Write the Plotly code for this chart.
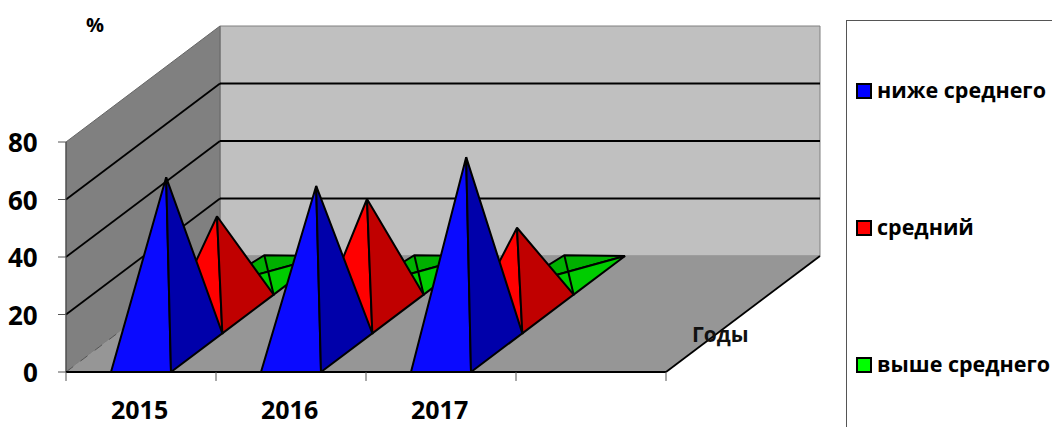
import plotly.graph_objects as go

years = ["2015", "2016", "2017"]
below_avg = [61, 58, 68]
average = [34, 40, 30]
above_avg = [7, 7, 7]
series_names = ["ниже среднего", "средний", "выше среднего"]
y_ticks = [0, 20, 40, 60, 80]

FONT = "Open Sans"
X0, Y0, CAT_W, PX_PER_UNIT, DX, DY = 66, 372, 150, 2.875, 154, 116
N_CATS = 4


def project(u, d, v=0):
    return X0 + u * CAT_W + d * DX, Y0 - v * PX_PER_UNIT - d * DY


fig = go.Figure()


def poly(points, fill, line="black", width=2):
    xs = [p[0] for p in points] + [points[0][0]]
    ys = [p[1] for p in points] + [points[0][1]]
    fig.add_trace(go.Scatter(x=xs, y=ys, mode="lines", fill="toself", fillcolor=fill,
                             line=dict(color=line, width=width), hoverinfo="skip", showlegend=False))


def seg(a, b, color="black", width=2, dash="solid"):
    fig.add_trace(go.Scatter(x=[a[0], b[0]], y=[a[1], b[1]], mode="lines",
                             line=dict(color=color, width=width, dash=dash),
                             hoverinfo="skip", showlegend=False))


# Walls and floor
poly([project(0, 1, 0), project(N_CATS, 1, 0), project(N_CATS, 1, 80), project(0, 1, 80)], "#c0c0c0", "#808080", 1)
poly([project(0, 0, 0), project(0, 1, 0), project(0, 1, 80), project(0, 0, 80)], "#808080", "#666666", 1)
poly([project(0, 0, 0), project(N_CATS, 0, 0), project(N_CATS, 1, 0), project(0, 1, 0)], "#969696", "#969696", 0.5)

# Gridlines
for t in y_ticks[1:-1]:
    seg(project(0, 0, t), project(0, 1, t), width=1.8)
    seg(project(0, 1, t), project(N_CATS, 1, t), width=1.8)
seg(project(0, 0, 0), project(0, 1, 0), "#555555", 1, "dash")
seg(project(N_CATS, 0, 0), project(N_CATS, 1, 0), "black", 1.8)

# Axis lines and ticks
seg(project(0, 0, 0), project(0, 0, 80), "#444444", 1)
seg(project(0, 0, 0), project(N_CATS, 0, 0), "black", 1.8)
for t in y_ticks:
    x, y = project(0, 0, t)
    seg((x - 8, y), (x, y), "#555555", 1)
    fig.add_annotation(x=x - 26, y=y, text=f"<b>{t}</b>", showarrow=False, xanchor="right", yanchor="middle",
                       font=dict(family=FONT, size=26, color="black"))
for c in range(N_CATS + 1):
    x, y = project(c, 0, 0)
    seg((x, y), (x, y + 9), "#555555", 1)
for c, label in enumerate(years):
    x, y = project(c + 0.493, 0, 0)
    fig.add_annotation(x=x, y=y + 37, text=f"<b>{label}</b>", showarrow=False, xanchor="center", yanchor="middle",
                       font=dict(family=FONT, size=25, color="black"))

# Pyramids, back row first
B0, B1 = 0.3, 0.7
for c, v in enumerate(above_avg):
    d0, d1 = 2 / 3, 1
    fl, fr, br = project(c + B0, d0), project(c + B1, d0), project(c + B1, d1)
    ax, ay = project(c + 0.5, (d0 + d1) / 2, v)
    apex = (ax - 5, ay)
    low = (fl[0], fl[1] - 8)
    poly([low, apex, br], "#00b000")
    poly([low, fr, br], "#00cc00")
    seg(apex, fr)

for series, shade, light, row, shift in [(average, "#c00000", "#ff0000", 1, -1), (below_avg, "#0000aa", "#0a0aff", 0, -0.5)]:
    for c, v in enumerate(series):
        d0, d1 = row / 3, (row + 1) / 3
        fl, fr, br = project(c + B0, d0), project(c + B1, d0), project(c + B1, d1)
        ax, ay = project(c + 0.5, (d0 + d1) / 2, v)
        apex = (ax + shift, ay)
        poly([fl, fr, apex], light)
        poly([fr, br, apex], shade)

# Axis titles
fig.add_annotation(x=95, y=24, text="<b>%</b>", showarrow=False, font=dict(family=FONT, size=20, color="black"))
fig.add_annotation(x=720, y=334, text="<b>Годы</b>", showarrow=False, font=dict(family=FONT, size=21, color="#111111"))

# Legend
fig.add_shape(type="line", x0=846.5, x1=846.5, y0=20, y1=427, line=dict(color="#555555", width=1))
fig.add_shape(type="line", x0=846.5, x1=1052, y0=20.5, y1=20.5, line=dict(color="#555555", width=1))
for name, color, yy in zip(series_names, ["#0000ff", "#ff0000", "#00ff00"], [91, 228, 365]):
    fig.add_trace(go.Scatter(x=[864], y=[yy], mode="markers", showlegend=False, hoverinfo="skip",
                             marker=dict(symbol="square", size=14, color=color, line=dict(color="black", width=2))))
    fig.add_annotation(x=875, y=yy - 2, text=f"<b>{name}</b>", showarrow=False, xanchor="left", yanchor="middle",
                       font=dict(family=FONT, size=21.5, color="black"))

fig.update_layout(width=1052, height=427, margin=dict(l=0, r=0, t=0, b=0), paper_bgcolor="white", plot_bgcolor="white",
                  xaxis=dict(range=[0, 1052], visible=False, fixedrange=True),
                  yaxis=dict(range=[427, 0], visible=False, fixedrange=True))
fig.write_html("out.html", config={"displayModeBar": False},
               post_script="document.body.style.margin='0';document.documentElement.style.overflow='hidden';")
